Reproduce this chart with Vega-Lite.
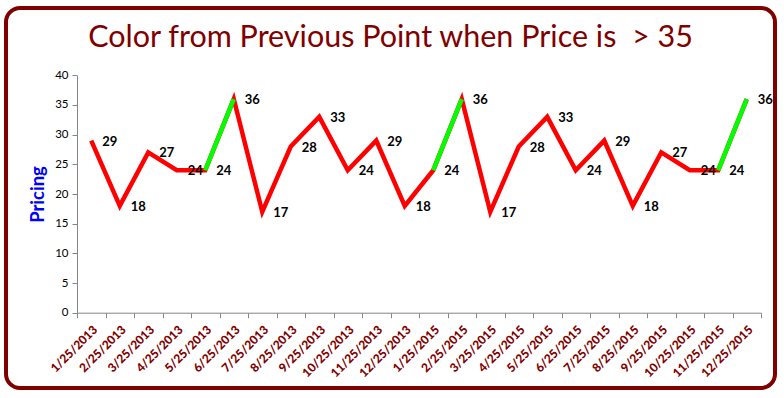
{
  "$schema": "https://vega.github.io/schema/vega-lite/v6.json",
  "width": 769,
  "height": 380,
  "autosize": {"type": "none"},
  "padding": {"left": 6, "top": 8, "right": 9, "bottom": 10},
  "background": "white",
  "config": {"view": {"stroke": "#800000", "strokeWidth": 4, "cornerRadius": 14}},
  "title": {
    "text": "Color from Previous Point when Price is \u00a0> 35",
    "frame": "group",
    "anchor": "middle",
    "orient": "top",
    "offset": -69,
    "baseline": "alphabetic",
    "font": "Lato",
    "fontSize": 30.5,
    "fontWeight": "normal",
    "color": "#800000"
  },
  "data": {
    "values": [
      {"date": "1/25/2013", "price": 29},
      {"date": "2/25/2013", "price": 18},
      {"date": "3/25/2013", "price": 27},
      {"date": "4/25/2013", "price": 24},
      {"date": "5/25/2013", "price": 24},
      {"date": "6/25/2013", "price": 36},
      {"date": "7/25/2013", "price": 17},
      {"date": "8/25/2013", "price": 28},
      {"date": "9/25/2013", "price": 33},
      {"date": "10/25/2013", "price": 24},
      {"date": "11/25/2013", "price": 29},
      {"date": "12/25/2013", "price": 18},
      {"date": "1/25/2015", "price": 24},
      {"date": "2/25/2015", "price": 36},
      {"date": "3/25/2015", "price": 17},
      {"date": "4/25/2015", "price": 28},
      {"date": "5/25/2015", "price": 33},
      {"date": "6/25/2015", "price": 24},
      {"date": "7/25/2015", "price": 29},
      {"date": "8/25/2015", "price": 18},
      {"date": "9/25/2015", "price": 27},
      {"date": "10/25/2015", "price": 24},
      {"date": "11/25/2015", "price": 24},
      {"date": "12/25/2015", "price": 36}
    ]
  },
  "transform": [
    {"window": [
      {"op": "lag", "field": "date", "as": "prevDate"},
      {"op": "lag", "field": "price", "as": "prevPrice"}
    ]}
  ],
  "encoding": {
    "x": {
      "field": "date",
      "type": "nominal",
      "sort": null,
      "scale": {
        "type": "band",
        "paddingInner": 0,
        "paddingOuter": 0,
        "range": [71, 755],
        "domain": ["1/25/2013","2/25/2013","3/25/2013","4/25/2013","5/25/2013","6/25/2013","7/25/2013","8/25/2013","9/25/2013","10/25/2013","11/25/2013","12/25/2013","1/25/2015","2/25/2015","3/25/2015","4/25/2015","5/25/2015","6/25/2015","7/25/2015","8/25/2015","9/25/2015","10/25/2015","11/25/2015","12/25/2015"]
      },
      "axis": {
        "title": null,
        "orient": "bottom",
        "offset": -75.3,
        "tickBand": "extent",
        "labelAngle": -45,
        "labelColor": "#800000",
        "labelFont": "Lato",
        "labelFontWeight": 900,
        "labelFontSize": 12,
        "labelPadding": 6,
        "domainColor": "#868686",
        "tickColor": "#868686",
        "tickSize": 5,
        "grid": false
      }
    },
    "y": {
      "field": "price",
      "type": "quantitative",
      "scale": {"domain": [0, 40], "nice": false, "range": [304.7, 67.3]},
      "axis": {
        "title": "Pricing",
        "offset": -71,
        "values": [0, 5, 10, 15, 20, 25, 30, 35, 40],
        "titleColor": "blue",
        "titleFont": "Lato",
        "titleFontSize": 18.5,
        "titleFontWeight": "bold",
        "titlePadding": 7,
        "labelFont": "Lato",
        "labelFontSize": 11.5,
        "labelColor": "black",
        "labelPadding": 4,
        "domainColor": "#868686",
        "tickColor": "#868686",
        "tickSize": 5,
        "grid": false
      }
    }
  },
  "layer": [
    {"mark": {"type": "line", "color": "#FF0000", "strokeWidth": 4.5}},
    {
      "transform": [{"filter": "datum.price > 35"}],
      "mark": {"type": "rule", "color": "#00FF00", "strokeWidth": 4.5},
      "encoding": {
        "x": {"field": "prevDate", "type": "nominal"},
        "x2": {"field": "date"},
        "y": {"field": "prevPrice", "type": "quantitative"},
        "y2": {"field": "price"}
      }
    },
    {
      "mark": {"type": "text", "align": "left", "baseline": "middle", "dx": 11, "dy": 1, "font": "Lato", "fontWeight": "bold", "fontSize": 13, "color": "black"},
      "encoding": {"text": {"field": "price", "type": "quantitative"}}
    }
  ]
}
